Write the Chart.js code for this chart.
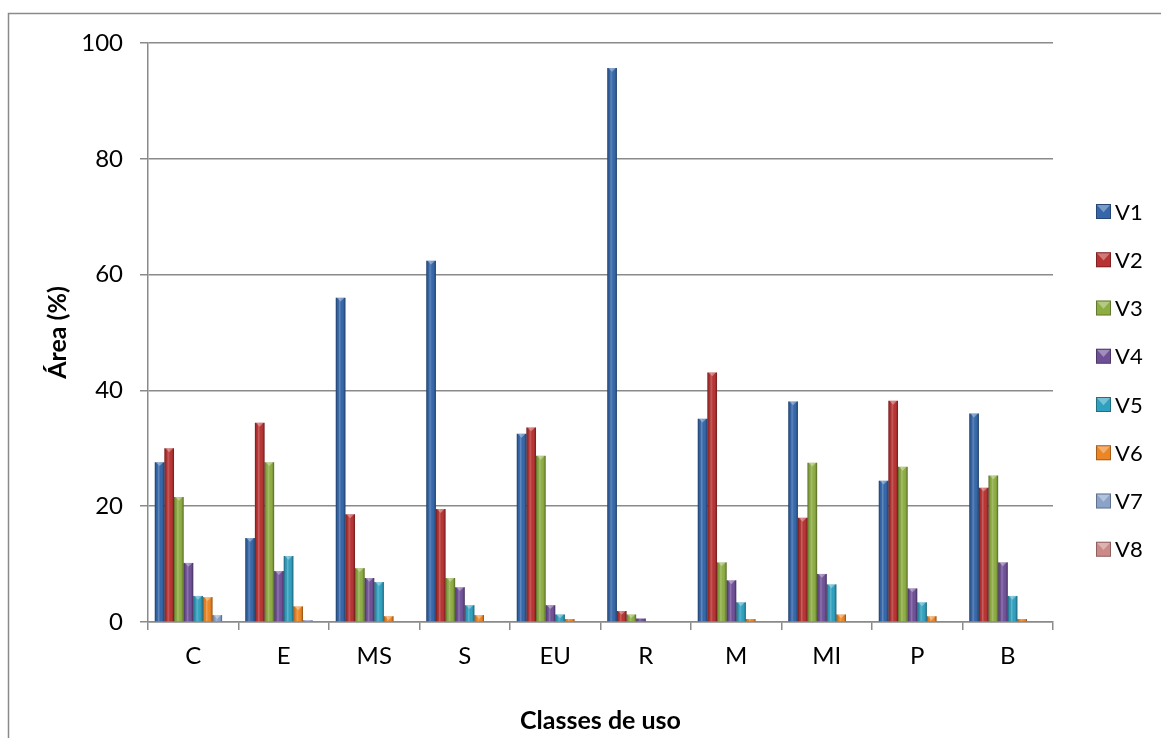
<!DOCTYPE html>
<html>
<head>
<meta charset="utf-8">
<script src="https://cdn.jsdelivr.net/npm/chart.js@4.4.1/dist/chart.umd.min.js"></script>
<style>
  html, body { margin: 0; padding: 0; background: #fff; }
  #wrap { width: 1161px; height: 738px; position: relative; }
</style>
</head>
<body>
<div id="wrap"><canvas id="chart"></canvas></div>
<script>
const categories = ['C', 'E', 'MS', 'S', 'EU', 'R', 'M', 'MI', 'P', 'B']
const seriesNames = ['V1', 'V2', 'V3', 'V4', 'V5', 'V6', 'V7', 'V8']

const v1 = [27.6, 14.5, 56.0, 62.4, 32.5, 95.7, 35.1, 38.1, 24.4, 36.0]
const v2 = [30.0, 34.4, 18.6, 19.5, 33.6, 1.9, 43.1, 18.0, 38.2, 23.2]
const v3 = [21.6, 27.6, 9.3, 7.6, 28.7, 1.3, 10.3, 27.5, 26.8, 25.3]
const v4 = [10.2, 8.8, 7.6, 6.0, 2.9, 0.6, 7.2, 8.3, 5.8, 10.3]
const v5 = [4.5, 11.4, 6.9, 2.9, 1.3, 0, 3.4, 6.5, 3.4, 4.5]
const v6 = [4.3, 2.7, 1.0, 1.2, 0.5, 0, 0.5, 1.3, 1.0, 0.5]
const v7 = [1.2, 0.3, 0, 0, 0, 0, 0, 0, 0, 0]
const v8 = [0, 0, 0, 0, 0, 0, 0, 0, 0, 0]

const yTicks = [0, 20, 40, 60, 80, 100]

const seriesValues = [v1, v2, v3, v4, v5, v6, v7, v8]
const seriesColors = ['#3466a9', '#b73231', '#8dad42', '#6f5097', '#30a0bf', '#ec8624', '#8ba3c9', '#cb8a88']

const FONT = 'Lato, "Open Sans", sans-serif'
const GRAY = '#8a8a8a'

// outer frame around the whole chart
const framePlugin = {
  id: 'frame',
  beforeDraw(chart) {
    const ctx = chart.ctx
    ctx.save()
    ctx.strokeStyle = GRAY
    ctx.lineWidth = 1.5
    ctx.strokeRect(8.5, 13.5, chart.width + 20, chart.height + 20)
    ctx.restore()
  }
}

// rounded "bevel" shading on top of each bar
const bevelPlugin = {
  id: 'bevel',
  afterDatasetsDraw(chart) {
    const ctx = chart.ctx
    ctx.save()
    chart.data.datasets.forEach((ds, i) => {
      const meta = chart.getDatasetMeta(i)
      meta.data.forEach(el => {
        const w = el.width
        const top = Math.min(el.y, el.base)
        const h = Math.abs(el.base - el.y)
        if (h < 0.6) return
        const left = el.x - w / 2
        const g = ctx.createLinearGradient(left, 0, left + w, 0)
        g.addColorStop(0, 'rgba(0,0,0,0.38)')
        g.addColorStop(0.18, 'rgba(0,0,0,0.05)')
        g.addColorStop(0.38, 'rgba(255,255,255,0.22)')
        g.addColorStop(0.6, 'rgba(255,255,255,0)')
        g.addColorStop(0.85, 'rgba(0,0,0,0.12)')
        g.addColorStop(1, 'rgba(0,0,0,0.42)')
        ctx.fillStyle = g
        ctx.fillRect(left, top, w, h)
        if (h > 3) {
          ctx.fillStyle = 'rgba(255,255,255,0.35)'
          ctx.beginPath()
          ctx.moveTo(left + 1, top)
          ctx.lineTo(left + w - 1, top)
          ctx.lineTo(el.x, top + Math.min(w * 0.4, h))
          ctx.closePath()
          ctx.fill()
        }
      })
    })
    ctx.restore()
  }
}

// legend on the right, one row per series
const legendPlugin = {
  id: 'sideLegend',
  afterDraw(chart) {
    const ctx = chart.ctx
    const x = 1096, y0 = 211.5, step = 48.25, box = 15
    ctx.save()
    ctx.font = '22px ' + FONT
    ctx.textBaseline = 'middle'
    ctx.fillStyle = '#000'
    chart.data.datasets.forEach((ds, i) => {
      const y = y0 + i * step
      const top = y - box / 2
      ctx.fillStyle = ds.backgroundColor
      ctx.fillRect(x, top, box, box)
      ctx.fillStyle = 'rgba(255,255,255,0.35)'
      ctx.beginPath()
      ctx.moveTo(x + 1, top + 1)
      ctx.lineTo(x + box - 1, top + 1)
      ctx.lineTo(x + box / 2, top + box * 0.55)
      ctx.closePath()
      ctx.fill()
      ctx.strokeStyle = 'rgba(0,0,0,0.3)'
      ctx.lineWidth = 1
      ctx.strokeRect(x + 0.5, top + 0.5, box - 1, box - 1)
      ctx.fillStyle = '#000'
      ctx.fillText(ds.label, x + box + 4, y + 1)
    })
    ctx.restore()
  }
}

const ctx = document.getElementById('chart').getContext('2d')

new Chart(ctx, {
  type: 'bar',
  data: {
    labels: categories,
    datasets: seriesNames.map((name, i) => ({
      label: name,
      data: seriesValues[i],
      backgroundColor: seriesColors[i],
      borderWidth: 0,
      categoryPercentage: 0.85,
      barPercentage: 1.0,
    }))
  },
  options: {
    responsive: true,
    maintainAspectRatio: false,
    animation: false,
    layout: { padding: { top: 43, left: 9, right: 108, bottom: 0 } },
    plugins: {
      legend: { display: false },
      tooltip: { enabled: false },
    },
    scales: {
      x: {
        afterFit(scale) { scale.height = 116 },
        grid: {
          offset: true,
          drawOnChartArea: false,
          drawTicks: true,
          tickLength: 8,
          color: GRAY,
          lineWidth: 1.5,
        },
        border: { color: GRAY, width: 1.5 },
        ticks: {
          color: '#000',
          padding: 12,
          font: { family: FONT, size: 24 },
        },
        title: {
          display: true,
          text: 'Classes de uso',
          color: '#000',
          padding: { top: 0, bottom: 2 },
          font: { family: FONT, size: 25, weight: 'bold' },
        }
      },
      y: {
        min: 0,
        max: 100,
        afterFit(scale) { scale.width = 139 },
        afterBuildTicks(scale) { scale.ticks = yTicks.map(v => ({ value: v })) },
        grid: {
          color: GRAY,
          lineWidth: 1.5,
          drawTicks: true,
          tickLength: 8,
        },
        border: { color: GRAY, width: 1.5 },
        ticks: {
          color: '#000',
          padding: 17,
          font: { family: FONT, size: 24 },
        },
        title: {
          display: true,
          text: 'Área (%)',
          color: '#000',
          padding: { top: 34, bottom: 0 },
          font: { family: FONT, size: 25, weight: 'bold' },
        }
      }
    }
  },
  plugins: [framePlugin, bevelPlugin, legendPlugin]
})
</script>
</body>
</html>
